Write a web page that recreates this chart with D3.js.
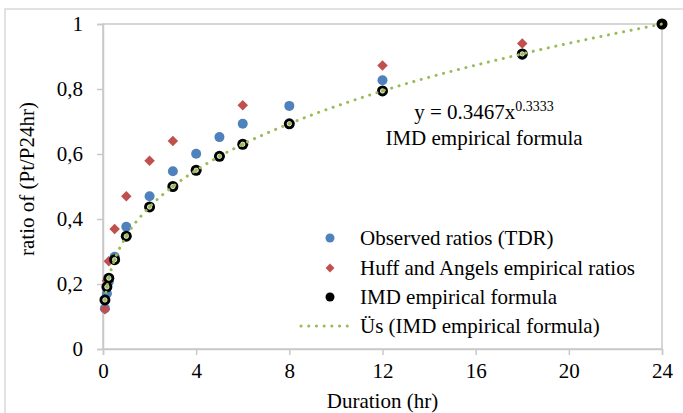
<!DOCTYPE html>
<html>
<head>
<meta charset="utf-8">
<script src="https://cdn.jsdelivr.net/npm/d3@7"></script>
<style>
  body { margin: 0; background: #fff; }
  text { font-family: "Liberation Serif", "Times New Roman", serif; fill: #000; }
</style>
</head>
<body>
<svg width="683" height="413"></svg>
<script>
// durations (hr) and ratios
let obsHours = [0.083, 0.167, 0.25, 0.5, 1, 2, 3, 4, 5, 6, 8, 12, 18, 24];
let obsRatio = [0.125, 0.171, 0.207, 0.284, 0.376, 0.47, 0.547, 0.601, 0.652, 0.693, 0.748, 0.827, 0.905, 1];
let huffHours = [0.083, 0.167, 0.25, 0.5, 1, 2, 3, 6, 12, 18, 24];
let huffRatio = [0.122, 0.21, 0.27, 0.369, 0.47, 0.579, 0.64, 0.75, 0.872, 0.94, 1];
let imdHours = [0.083, 0.167, 0.25, 0.5, 1, 2, 3, 4, 5, 6, 8, 12, 18, 24];
let imdRatio = [0.151, 0.191, 0.218, 0.275, 0.347, 0.437, 0.5, 0.55, 0.593, 0.63, 0.693, 0.794, 0.908, 1];
let xTicks = [0, 4, 8, 12, 16, 20, 24];
let yTicks = [0, 0.2, 0.4, 0.6, 0.8, 1];
let legendNames = ['Observed ratios (TDR)', 'Huff and Angels empirical ratios', 'IMD empirical formula', 'Üs (IMD empirical formula)'];

let blue = '#4f81bd', red = '#c0504d', green = '#9bbb59', grid = '#c9c9c9';
let fontSize = '21px';
let svg = d3.select('svg');

let x = d3.scaleLinear().domain([0, 24]).range([103, 662]);
let y = d3.scaleLinear().domain([0, 1]).range([349, 24]);

function pairs(xs, ys) {
    return xs.map(function(h, i) { return { h: h, v: ys[i] }; });
}

// chart outer border
svg.append('rect')
    .attr('x', 5).attr('y', 9).attr('width', 700).attr('height', 420)
    .attr('fill', 'none').attr('stroke', '#d9d9d9').attr('stroke-width', 1.5);

// plot area frame
svg.append('rect')
    .attr('x', x(0)).attr('y', y(1))
    .attr('width', x(24) - x(0)).attr('height', y(0) - y(1))
    .attr('fill', 'none').attr('stroke', grid).attr('stroke-width', 1.5);

let yAxis = svg.append('g')
    .attr('transform', 'translate(' + x(0) + ',0)')
    .call(d3.axisLeft(y).tickValues(yTicks).tickSize(6).tickPadding(14)
        .tickFormat(function(d) { return String(+d.toFixed(1)).replace('.', ','); }));

let xAxis = svg.append('g')
    .attr('transform', 'translate(0,' + y(0) + ')')
    .call(d3.axisBottom(x).tickValues(xTicks).tickSize(6).tickPadding(8));

[xAxis, yAxis].forEach(function(g) {
    g.attr('font-family', null);
    g.select('.domain').attr('stroke', grid).attr('stroke-width', 1.5);
    g.selectAll('.tick line').attr('stroke', grid).attr('stroke-width', 1.5);
    g.selectAll('.tick text').style('font-size', fontSize).attr('fill', '#000');
});

svg.append('text')
    .attr('transform', 'translate(34,179) rotate(-90)')
    .attr('text-anchor', 'middle')
    .style('font-size', fontSize)
    .text('ratio of (Pt/P24hr)');

svg.append('text')
    .attr('x', (x(0) + x(24)) / 2).attr('y', 408)
    .attr('text-anchor', 'middle')
    .style('font-size', fontSize)
    .text('Duration (hr)');

let diamond = d3.symbol().type(d3.symbolDiamond2).size(70);

svg.append('g').selectAll('circle')
    .data(pairs(obsHours, obsRatio))
    .join('circle')
    .attr('cx', function(d) { return x(d.h); })
    .attr('cy', function(d) { return y(d.v); })
    .attr('r', 5)
    .attr('fill', blue);

svg.append('g').selectAll('path')
    .data(pairs(huffHours, huffRatio))
    .join('path')
    .attr('d', diamond)
    .attr('transform', function(d) { return 'translate(' + x(d.h) + ',' + y(d.v) + ')'; })
    .attr('fill', red);

let imd = svg.append('g').selectAll('g')
    .data(pairs(imdHours, imdRatio))
    .join('g')
    .attr('transform', function(d) { return 'translate(' + x(d.h) + ',' + y(d.v) + ')'; });
imd.append('circle').attr('r', 5.5).attr('fill', '#000');
imd.filter(function(d) { return d.h < 24; })
    .append('circle').attr('r', 2.2).attr('fill', green)
    .attr('stroke', '#fff').attr('stroke-width', 0.8);

// power trendline through the IMD points
let trend = d3.line()
    .x(function(d) { return x(d.h); })
    .y(function(d) { return y(d.v); })
    .curve(d3.curveMonotoneX);

svg.append('path')
    .datum(pairs(imdHours, imdRatio))
    .attr('d', trend)
    .attr('fill', 'none')
    .attr('stroke', green)
    .attr('stroke-width', 3)
    .attr('stroke-linecap', 'round')
    .attr('stroke-dasharray', '0.1 7.6');

// equation label
let eq = svg.append('text')
    .attr('x', 484).attr('y', 119)
    .attr('text-anchor', 'middle')
    .style('font-size', fontSize);
eq.append('tspan').text('y = 0.3467x');
eq.append('tspan').attr('dy', -8).style('font-size', '14px').text('0.3333');

svg.append('text')
    .attr('x', 484).attr('y', 145)
    .attr('text-anchor', 'middle')
    .style('font-size', fontSize)
    .text('IMD empirical formula');

// legend
let legendY = [238, 268, 297, 326];
let legend = svg.append('g').selectAll('g')
    .data(legendNames)
    .join('g')
    .attr('transform', function(d, i) { return 'translate(0,' + legendY[i] + ')'; });

legend.append('text')
    .attr('x', 360).attr('dy', '0.35em')
    .style('font-size', fontSize)
    .text(function(d) { return d; });

legend.filter(function(d, i) { return i === 0; })
    .append('circle').attr('cx', 330).attr('r', 4.5).attr('fill', blue);
legend.filter(function(d, i) { return i === 1; })
    .append('path').attr('d', d3.symbol().type(d3.symbolDiamond2).size(50))
    .attr('transform', 'translate(330,0)').attr('fill', red);
legend.filter(function(d, i) { return i === 2; })
    .append('circle').attr('cx', 330).attr('r', 4.5).attr('fill', '#000');
legend.filter(function(d, i) { return i === 3; })
    .append('line').attr('x1', 301).attr('x2', 354)
    .attr('stroke', green).attr('stroke-width', 3)
    .attr('stroke-linecap', 'round').attr('stroke-dasharray', '0.1 7.6');
</script>
</body>
</html>
